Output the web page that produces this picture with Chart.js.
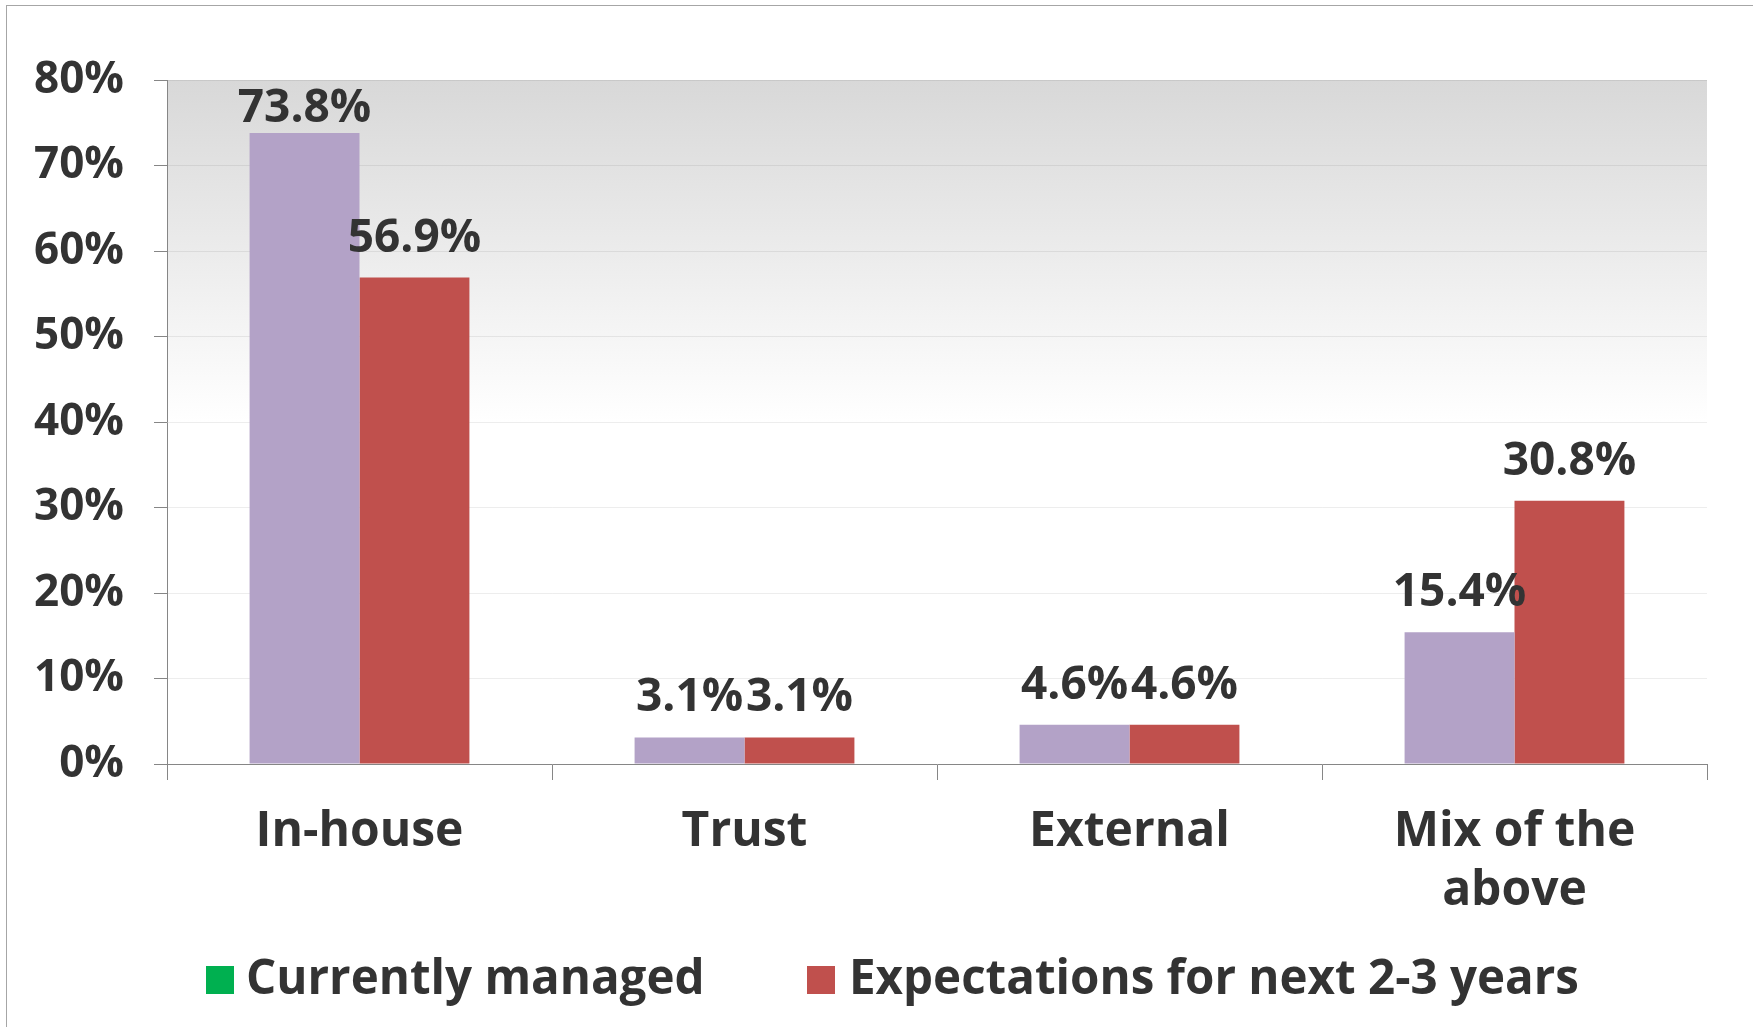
<!DOCTYPE html>
<html lang="en">
<head>
    <meta charset="UTF-8">
    <title>Management</title>
    <style>
        body { margin: 0; background: #fff; }
        #wrap { position: relative; width: 1753px; height: 1027px; overflow: hidden; }
        #frame { position: absolute; left: 6px; top: 5px; width: 2000px; height: 2000px;
                 border-left: 1px solid #a6a6a6; border-top: 1px solid #a6a6a6; }
        canvas { position: absolute; left: 0; top: 0; }
        .lg-box { position: absolute; width: 28px; height: 28px; }
        .lg-text { position: absolute; font-family: 'Open Sans'; font-weight: 700; font-size: 47.5px;
                   line-height: 48px; color: #333; white-space: nowrap; }
    </style>
</head>
<body>
<div id="wrap">
    <div id="frame"></div>
    <canvas id="myChart" width="1753" height="1027"></canvas>
    <div id="legend"></div>
</div>
<script src="https://cdn.jsdelivr.net/npm/chart.js@4.4.1/dist/chart.umd.min.js"></script>
<script>
    const categories = ['In-house', 'Trust', 'External', ['Mix of the', 'above']];
    const currentVals = [73.8, 3.1, 4.6, 15.4];
    const expectVals = [56.9, 3.1, 4.6, 30.8];
    const seriesNames = ['Currently managed', 'Expectations for next 2-3 years'];
    const legendColors = ['#00B050', '#C0504D'];

    // grey fade behind the plot
    const plotBg = {
        id: 'plotBg',
        beforeDraw(chart) {
            const { ctx, chartArea: a, scales } = chart;
            const fadeEnd = scales.y.getPixelForValue(40);
            const g = ctx.createLinearGradient(0, a.top, 0, fadeEnd);
            g.addColorStop(0, '#d8d8d8');
            g.addColorStop(1, '#ffffff');
            ctx.save();
            ctx.fillStyle = g;
            ctx.fillRect(a.left, a.top, a.right - a.left, fadeEnd - a.top);
            ctx.restore();
        }
    };

    // value labels on top of the bars (kept inside the plot at the top)
    const barValues = {
        id: 'barValues',
        afterDatasetsDraw(chart) {
            const ctx = chart.ctx;
            const top = chart.chartArea.top;
            ctx.save();
            ctx.font = "700 46px 'Open Sans'";
            ctx.fillStyle = '#333333';
            ctx.textAlign = 'center';
            ctx.textBaseline = 'alphabetic';
            chart.data.datasets.forEach((ds, i) => {
                chart.getDatasetMeta(i).data.forEach((bar, j) => {
                    const y = Math.max(bar.y - 26, top + 42);
                    ctx.fillText(ds.data[j].toFixed(1) + '%', bar.x, y);
                });
            });
            ctx.restore();
        }
    };

    const ctx1 = document.getElementById('myChart').getContext('2d');
    const myChart = new Chart(ctx1, {
        type: 'bar',
        data: {
            labels: categories,
            datasets: [{
                label: seriesNames[0],
                data: currentVals,
                backgroundColor: '#B3A2C7'
            }, {
                label: seriesNames[1],
                data: expectVals,
                backgroundColor: '#C0504D'
            }]
        },
        options: {
            responsive: false,
            animation: false,
            layout: { padding: { left: 0, top: 80, right: 46, bottom: 113 } },
            datasets: { bar: { categoryPercentage: 0.571, barPercentage: 1 } },
            plugins: {
                legend: { display: false },
                tooltip: { enabled: false }
            },
            scales: {
                x: {
                    afterFit(s) { s.height = 150; },
                    grid: { offset: true, drawOnChartArea: false, tickLength: 16, tickColor: '#868686' },
                    border: { color: '#868686' },
                    ticks: {
                        color: '#333333',
                        padding: 23,
                        font: { family: 'Open Sans', weight: '700', size: 48, lineHeight: 1.23 }
                    }
                },
                y: {
                    min: 0,
                    max: 80,
                    afterFit(s) { s.width = 167; },
                    grid: { color: 'rgba(0,0,0,0.07)', tickLength: 13, tickColor: '#868686' },
                    border: { color: '#868686' },
                    ticks: {
                        stepSize: 10,
                        color: '#333333',
                        padding: 30,
                        font: { family: 'Open Sans', weight: '700', size: 44 },
                        callback: v => v + '%'
                    }
                }
            }
        },
        plugins: [plotBg, barValues]
    });

    // legend under the chart
    const legendPos = [{ box: 206, text: 246 }, { box: 807, text: 849 }];
    const lg = document.getElementById('legend');
    seriesNames.forEach((name, i) => {
        const b = document.createElement('div');
        b.className = 'lg-box';
        b.style.left = legendPos[i].box + 'px';
        b.style.top = '966px';
        b.style.background = legendColors[i];
        lg.appendChild(b);
        const t = document.createElement('div');
        t.className = 'lg-text';
        t.style.left = legendPos[i].text + 'px';
        t.style.top = '952px';
        t.textContent = name;
        lg.appendChild(t);
    });
</script>
</body>
</html>
